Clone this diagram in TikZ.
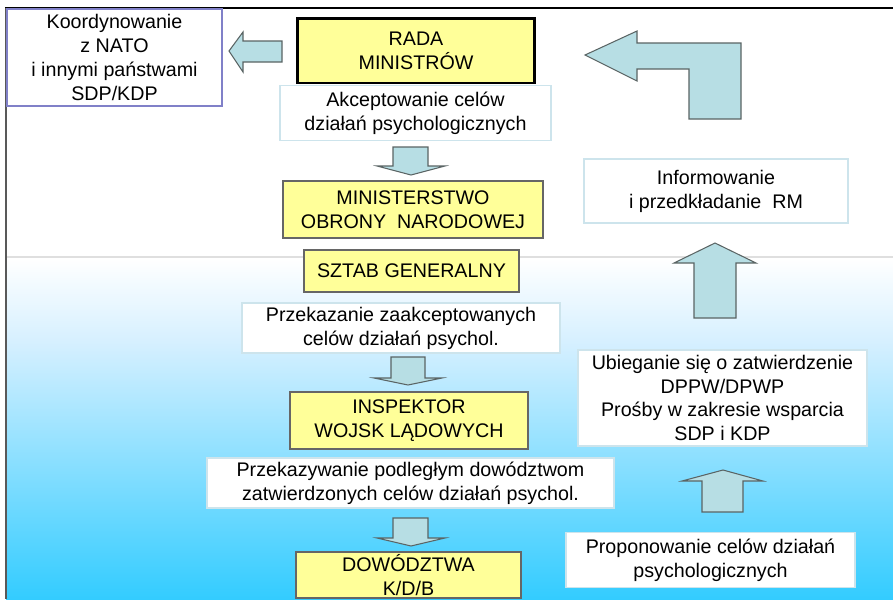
\documentclass[tikz,border=0pt]{standalone}
\usepackage{fontspec}
\setmainfont{Liberation Sans}

\definecolor{boxyellow}{RGB}{255,255,153}
\definecolor{arrowfill}{RGB}{183,222,228}
\definecolor{arrowline}{RGB}{90,100,100}
\definecolor{paleline}{RGB}{205,228,236}
\definecolor{koordline}{RGB}{128,128,200}
\definecolor{skyblue}{RGB}{51,204,255}
\definecolor{paleblue}{RGB}{215,240,255}

\tikzset{
    basebox/.style={align=center, inner sep=0pt,
        font=\fontsize{11.2}{13.6}\selectfont},
    yellowbox/.style={basebox, fill=boxyellow, draw=gray!80!black, line width=0.8pt},
    whitebox/.style={basebox, fill=white, draw=paleline, line width=0.8pt},
    blockarrow/.style={fill=arrowfill, draw=arrowline, line width=0.6pt, line join=miter}
}

\begin{document}
\begin{tikzpicture}[x=0.02cm,y=-0.02cm]

    \useasboundingbox (0,0) rectangle (893,599);
    \clip (0,0) rectangle (893,599);

    % background
    \fill[white] (0,0) rectangle (893,599);
    \shade[top color=white, bottom color=paleblue] (6,258) rectangle (893,340);
    \shade[top color=paleblue, bottom color=skyblue] (6,340) rectangle (893,599);
    \draw[gray!25, line width=1.2pt] (6,257) -- (893,257);
    \draw[black, line width=0.6pt] (5,8) -- (893,8);
    \draw[gray!70!black, line width=1.4pt] (6,8) -- (6,599);

    % left column
    \node (koord) [whitebox, draw=koordline, minimum width=4.30cm, minimum height=1.94cm]
        at (114.5,57.5) {Koordynowanie\\z NATO\\i innymi państwami\\SDP/KDP};

    \node (rada) [yellowbox, draw=black, line width=1.7pt, minimum width=4.76cm, minimum height=1.30cm]
        at (416,50.5) {RADA\\MINISTRÓW};
    \node (akcept) [whitebox, minimum width=5.42cm, minimum height=1.10cm]
        at (415.5,113) {Akceptowanie celów\\działań psychologicznych};
    \node (mon) [yellowbox, minimum width=5.20cm, minimum height=1.14cm]
        at (413,209.5) {MINISTERSTWO\\OBRONY\ \ NARODOWEJ};
    \node (sztab) [yellowbox, minimum width=4.30cm, minimum height=0.84cm]
        at (411.5,271) {SZTAB GENERALNY};
    \node (przekaz) [whitebox, minimum width=6.36cm, minimum height=1.00cm]
        at (401,328) {Przekazanie zaakceptowanych\\celów działań psychol.};
    \node (inspektor) [yellowbox, minimum width=4.76cm, minimum height=1.14cm]
        at (409,420.5) {INSPEKTOR\\WOJSK LĄDOWYCH};
    \node (przekazyw) [whitebox, minimum width=8.14cm, minimum height=1.00cm]
        at (410.5,483) {Przekazywanie podległym dowództwom\\zatwierdzonych celów działań psychol.};
    \node (dow) [yellowbox, minimum width=4.50cm, minimum height=0.92cm]
        at (408.5,575) {DOWÓDZTWA\\K/D/B};

    % right column
    \node (inform) [whitebox, minimum width=5.28cm, minimum height=1.28cm]
        at (716,191) {Informowanie\\i przedkładanie\ \ RM};
    \node (ubieg) [whitebox, minimum width=5.78cm, minimum height=1.92cm]
        at (722.5,398) {Ubieganie się o zatwierdzenie\\DPPW/DPWP\\Prośby w zakresie wsparcia\\SDP i KDP};
    \node (propon) [whitebox, minimum width=5.78cm, minimum height=1.10cm]
        at (710.5,560) {Proponowanie celów działań\\psychologicznych};

    % block arrows
    \draw[blockarrow] (229,51) -- (243,32) -- (243,41) -- (282,41) -- (282,62)
        -- (243,62) -- (243,72) -- cycle;
    \draw[blockarrow] (585,55) -- (637,31) -- (637,43) -- (741,43) -- (741,119)
        -- (689,119) -- (689,69) -- (637,69) -- (637,81) -- cycle;

    \draw[blockarrow] (393,147) -- (428,147) -- (428,166) -- (445,166) -- (411,175)
        -- (377,166) -- (393,166) -- cycle;
    \draw[blockarrow] (391,357) -- (425,357) -- (425,378) -- (442,378) -- (408,385)
        -- (374,378) -- (391,378) -- cycle;
    \draw[blockarrow] (393,518) -- (428,518) -- (428,538) -- (445,538) -- (411,546)
        -- (377,538) -- (393,538) -- cycle;

    \draw[blockarrow] (694,318) -- (736,318) -- (736,263) -- (756,263) -- (715,243)
        -- (674,263) -- (694,263) -- cycle;
    \draw[blockarrow] (702,512) -- (743,512) -- (743,481) -- (763,481) -- (723,470)
        -- (682,481) -- (702,481) -- cycle;

\end{tikzpicture}
\end{document}
